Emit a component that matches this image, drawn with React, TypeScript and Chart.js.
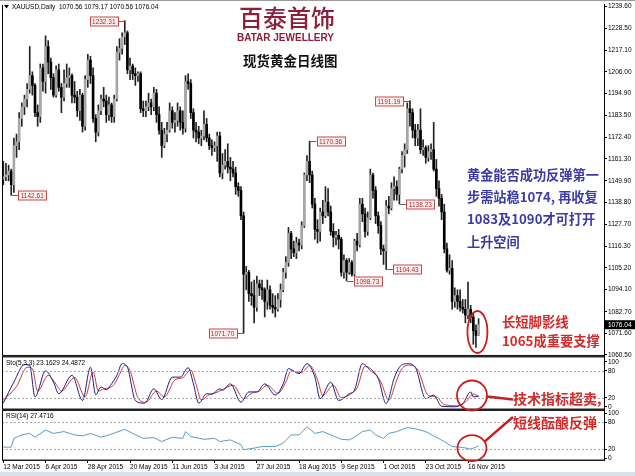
import React, { useEffect, useRef } from 'react';
import { Chart, registerables } from 'chart.js';

Chart.register(...registerables);

// ---------- DATA (XAUUSD daily) ----------
const symbolName = 'XAUUSD,Daily';
const firstDate = '2015-03-12';
const holidays = ['2015-04-03'];
const totalSlots = 228; // bars + empty right-hand shift

const opens = [
  1151, 1152, 1153, 1155, 1148, 1168, 1170, 1182, 1188, 1192, 1197, 1204, 1199, 1185, 1183, 1208, 1201, 1219, 1211, 1203,
  1194, 1207, 1198, 1193, 1200, 1203, 1204, 1194, 1193, 1186, 1194, 1178, 1202, 1212, 1204, 1182, 1175, 1186, 1192, 1191,
  1184, 1189, 1183, 1192, 1216, 1218, 1224, 1226, 1207, 1209, 1205, 1204, 1205, 1187, 1186, 1188, 1190, 1188, 1195, 1184,
  1176, 1168, 1174, 1176, 1186, 1180, 1181, 1186, 1180, 1177, 1201, 1200, 1185, 1176, 1175, 1172, 1173, 1179, 1172, 1168,
  1167, 1168, 1173, 1154, 1158, 1160, 1157, 1156, 1154, 1147, 1145, 1132, 1102, 1103, 1092, 1091, 1085, 1097, 1095, 1094,
  1088, 1094, 1086, 1085, 1084, 1089, 1094, 1103, 1108, 1123, 1115, 1113, 1118, 1117, 1127, 1153, 1160, 1153, 1138, 1125,
  1124, 1134, 1132, 1139, 1134, 1124, 1121, 1122, 1120, 1103, 1109, 1103, 1108, 1102, 1119, 1117, 1138, 1133, 1124, 1131,
  1153, 1145, 1132, 1127, 1115, 1114, 1137, 1136, 1146, 1147, 1143, 1156, 1163, 1166, 1187, 1185, 1176, 1172, 1176, 1166,
  1167, 1162, 1165, 1166, 1156, 1146, 1141, 1134, 1115, 1104, 1105, 1088, 1091, 1088, 1085, 1084, 1081, 1084, 1080, 1073,
  1070.56,
];
const highs = [
  1160, 1159, 1158, 1156, 1172, 1174, 1185, 1190, 1194, 1200, 1219, 1206, 1200, 1189, 1210, 1210, 1224.5, 1222, 1213, 1205,
  1209, 1210, 1200, 1207, 1210, 1208, 1205, 1201, 1196, 1197, 1195, 1204, 1215, 1214, 1208, 1184, 1189, 1194, 1198, 1194,
  1193, 1190, 1194, 1219, 1223, 1226, 1232.31, 1227, 1213, 1210, 1208, 1206, 1206, 1191, 1191, 1195, 1192, 1198, 1197, 1188,
  1180, 1177, 1180, 1190, 1188, 1185, 1190, 1188, 1186, 1204, 1205, 1202, 1187, 1180, 1178, 1176, 1186, 1182, 1174, 1171,
  1170, 1175, 1175, 1164, 1166, 1169, 1162, 1160, 1157, 1149, 1147, 1134, 1106, 1104, 1098, 1099, 1101, 1099, 1099, 1095,
  1099, 1096, 1092, 1091, 1092, 1097, 1105, 1111, 1126, 1124, 1119, 1121, 1120, 1129, 1154, 1163, 1170.36, 1155, 1141, 1130,
  1136, 1140, 1147, 1146, 1137, 1128, 1124, 1125, 1121, 1112, 1110, 1110, 1109, 1120, 1123, 1141, 1141, 1136, 1134, 1156,
  1154, 1147, 1134, 1129, 1117, 1140, 1142, 1149, 1152, 1150, 1157, 1165, 1169, 1190, 1191.19, 1187, 1179, 1179, 1187, 1171,
  1168, 1168, 1169, 1180, 1161, 1150, 1143, 1138, 1118, 1112, 1109, 1095, 1094, 1094, 1089, 1089, 1098, 1086, 1082, 1076,
  1079.17,
];
const lows = [
  1148, 1150, 1150, 1142.61, 1144, 1162, 1166, 1178, 1184, 1188, 1195, 1194, 1183, 1178, 1180, 1196, 1195, 1205, 1197, 1193,
  1193, 1196, 1185, 1191, 1198, 1198, 1190, 1190, 1183, 1181, 1175, 1176, 1198, 1200, 1180, 1170, 1173, 1184, 1188, 1180,
  1181, 1180, 1180, 1191, 1212, 1215, 1220, 1205, 1202, 1202, 1199, 1201, 1185, 1183, 1183, 1186, 1184, 1186, 1180, 1174,
  1162, 1167, 1170, 1175, 1177, 1175, 1178, 1176, 1174, 1175, 1197, 1182, 1172, 1170, 1169, 1168, 1171, 1170, 1166, 1163,
  1165, 1160, 1152, 1151, 1156, 1154, 1150, 1152, 1143, 1142, 1130, 1071.7, 1094, 1088, 1086, 1077, 1083, 1091, 1089, 1080,
  1084, 1084, 1082, 1080, 1083, 1085, 1093, 1100, 1106, 1110, 1111, 1110, 1114, 1115, 1126, 1150, 1149, 1136, 1120, 1118,
  1119, 1128, 1131, 1132, 1122, 1116, 1117, 1115, 1101, 1100, 1098.73, 1102, 1101, 1101, 1114, 1116, 1129, 1121, 1122, 1130,
  1141, 1128, 1123, 1112, 1107, 1104.43, 1133, 1135, 1140, 1140, 1138.23, 1154, 1157, 1164, 1178, 1172, 1168, 1168, 1164, 1163,
  1159, 1160, 1161, 1155, 1142, 1137, 1130, 1113, 1103, 1102, 1084, 1085, 1084, 1083, 1082, 1077, 1079, 1077, 1066, 1064.4,
  1070.56,
];
const closes = [
  1152, 1153, 1155, 1148, 1168, 1170, 1182, 1188, 1192, 1197, 1204, 1199, 1185, 1183, 1208, 1201, 1219, 1211, 1203, 1194,
  1207, 1198, 1193, 1200, 1203, 1204, 1194, 1193, 1186, 1194, 1178, 1202, 1212, 1204, 1182, 1175, 1186, 1192, 1191, 1184,
  1189, 1183, 1192, 1216, 1218, 1224, 1226, 1207, 1209, 1205, 1204, 1205, 1187, 1186, 1188, 1190, 1188, 1195, 1184, 1176,
  1168, 1174, 1176, 1186, 1180, 1181, 1186, 1180, 1177, 1201, 1200, 1185, 1176, 1175, 1172, 1173, 1179, 1172, 1168, 1167,
  1168, 1173, 1154, 1158, 1160, 1157, 1156, 1154, 1147, 1145, 1132, 1102, 1103, 1092, 1091, 1085, 1097, 1095, 1094, 1088,
  1094, 1086, 1085, 1084, 1089, 1094, 1103, 1108, 1123, 1115, 1113, 1118, 1117, 1127, 1153, 1160, 1153, 1138, 1125, 1124,
  1134, 1132, 1139, 1134, 1124, 1121, 1122, 1120, 1103, 1109, 1103, 1108, 1102, 1119, 1117, 1138, 1133, 1124, 1131, 1153,
  1145, 1132, 1127, 1115, 1114, 1137, 1136, 1146, 1147, 1143, 1156, 1163, 1166, 1187, 1185, 1176, 1172, 1176, 1166, 1167,
  1162, 1165, 1166, 1156, 1146, 1141, 1134, 1115, 1104, 1105, 1088, 1091, 1088, 1085, 1084, 1081, 1084, 1080, 1073, 1070.56,
  1076.04,
];

const priceTicks = [
  1239.6, 1228.5, 1217.1, 1206.0, 1194.9, 1183.5, 1172.4, 1161.3, 1149.9, 1138.8, 1127.7, 1116.3, 1105.2, 1094.1, 1082.7,
  1071.6, 1060.5,
];
const oscTicks = [0, 20, 80, 100];
const oscLevels = [20, 80];
const xTickLabels = [
  '12 Mar 2015', '6 Apr 2015', '28 Apr 2015', '20 May 2015', '11 Jun 2015', '3 Jul 2015', '27 Jul 2015', '18 Aug 2015',
  '9 Sep 2015', '1 Oct 2015', '23 Oct 2015', '16 Nov 2015',
];

// oscillators: [bar index, value] read at turning points
const stochK: [number, number][] = [
  [0, 8], [4, 55], [8, 94], [10, 92], [12, 22], [16, 80], [19, 55], [21, 29], [26, 70], [30, 14], [33, 88], [35, 27],
  [37, 44], [39, 38], [41, 51], [43, 70], [45, 96], [47, 88], [50, 14], [53, 8], [54, 10], [57, 40], [60, 16], [64, 66],
  [67, 66], [70, 87], [72, 51], [74, 8], [77, 29], [79, 28], [82, 40], [83, 37], [86, 51], [90, 10], [93, 33], [96, 33],
  [99, 51], [103, 26], [106, 51], [108, 85], [112, 74], [115, 96], [118, 66], [120, 18], [124, 55], [127, 14], [131, 29],
  [133, 37], [136, 96], [139, 81], [142, 63], [145, 7], [148, 63], [150, 88], [153, 96], [156, 88], [160, 18], [163, 26],
  [166, 1], [171, 0], [174, 7], [177, 33], [178, 22], [180, 23.1629],
];
const stochD: [number, number][] = [
  [0, 15], [5, 45], [9, 88], [11, 85], [13, 35], [17, 70], [20, 50], [22, 35], [27, 65], [31, 22], [34, 78], [36, 35],
  [38, 40], [40, 42], [42, 50], [44, 72], [46, 92], [48, 80], [51, 20], [54, 10], [58, 35], [61, 22], [65, 60], [68, 65],
  [71, 82], [73, 50], [75, 15], [78, 27], [80, 30], [83, 38], [87, 48], [91, 18], [94, 30], [97, 35], [100, 48], [104, 30],
  [107, 55], [109, 80], [113, 76], [116, 92], [119, 60], [121, 25], [125, 48], [128, 20], [132, 30], [134, 42], [137, 90],
  [140, 80], [143, 55], [146, 15], [149, 60], [151, 85], [154, 93], [157, 82], [161, 25], [164, 22], [167, 5], [172, 2],
  [175, 10], [178, 28], [180, 24.4872],
];
const rsi14: [number, number][] = [
  [0, 24.7], [3, 24.7], [4, 44], [7, 51.6], [10, 55], [12, 46.5], [16, 62.5], [19, 55], [23, 59], [27, 51.6], [30, 49.5],
  [33, 55], [37, 46.5], [40, 51.6], [46, 64], [49, 55], [53, 44], [57, 45.8], [60, 37], [64, 46.5], [68, 44], [69, 59],
  [71, 48], [76, 42], [80, 44], [82, 37], [86, 40.7], [90, 29.8], [91, 19], [95, 22.5], [98, 26], [103, 26], [106, 33.5],
  [109, 51.6], [112, 51.6], [115, 69.8], [118, 55], [121, 59], [124, 51.6], [128, 42], [131, 40.7], [133, 46.5], [136, 59],
  [139, 62.5], [141, 51.6], [144, 44], [146, 55], [149, 59], [153, 68], [157, 64], [160, 59], [163, 49.5], [167, 37],
  [170, 26], [174, 24], [177, 20.4], [178, 22.5], [180, 27.4716],
];

// swing price labels
const swingIdx = [46, 3, 91, 116, 130, 145, 154, 150];
const swingPrice = [1232.31, 1142.61, 1071.7, 1170.36, 1098.73, 1104.43, 1191.19, 1138.23];
const swingSide = ['left', 'right', 'left', 'right', 'right', 'right', 'left', 'right'];

const logoCn = '百泰首饰';
const logoEn = 'BATAR JEWELLERY';
const titleText = '现货黄金日线图';
const blueLines = ['黄金能否成功反弹第一', '步需站稳1074, 再收复', '1083及1090才可打开', '上升空间'];
const redLines = ['长短脚影线', '1065成重要支撑'];
const stochNote = '技术指标超卖,';
const rsiNote = '短线酝酿反弹';

// ---------- helpers ----------
const MONTHS = ['Jan', 'Feb', 'Mar', 'Apr', 'May', 'Jun', 'Jul', 'Aug', 'Sep', 'Oct', 'Nov', 'Dec'];
function buildDates(n: number): string[] {
  const out: string[] = [];
  const d = new Date(firstDate + 'T00:00:00Z');
  while (out.length < n) {
    const wd = d.getUTCDay();
    const iso = d.toISOString().slice(0, 10);
    if (wd !== 0 && wd !== 6 && !holidays.includes(iso)) {
      out.push(`${d.getUTCDate()} ${MONTHS[d.getUTCMonth()]} ${d.getUTCFullYear()}`);
    }
    d.setUTCDate(d.getUTCDate() + 1);
  }
  return out;
}

const N = opens.length;
const dates = buildDates(N);
const labels = [...dates, ...new Array(totalSlots - N).fill('')];
const tickIdx = new Set(xTickLabels.map((t) => dates.indexOf(t)).filter((i) => i >= 0));

function sparse(pts: [number, number][]) {
  const a: (number | null)[] = new Array(N).fill(null);
  pts.forEach(([i, v]) => (a[i] = v));
  return a;
}

const SMALL = '"Liberation Sans", Arial, sans-serif';
const CJK = '"Noto Sans CJK SC", "Noto Sans", sans-serif';

const overlay = {
  id: 'overlay',
  beforeDraw(chart: any) {
    const c = chart.ctx;
    c.save();
    c.fillStyle = '#ffffff';
    c.fillRect(0, 0, chart.width, chart.height);
    c.restore();
  },
  afterDraw(chart: any) {
    const c = chart.ctx as CanvasRenderingContext2D;
    const { x, y, yS, yR } = chart.scales;
    const area = chart.chartArea;
    c.save();

    // dotted levels
    c.strokeStyle = '#a8a8a8';
    c.lineWidth = 1;
    c.setLineDash([2, 2]);
    for (const sc of [yS, yR]) {
      for (const lv of oscLevels) {
        const py = Math.round(sc.getPixelForValue(lv)) + 0.5;
        c.beginPath();
        c.moveTo(area.left, py);
        c.lineTo(area.right, py);
        c.stroke();
      }
    }
    c.setLineDash([]);

    // frame & separators
    c.fillStyle = '#9c9c9c';
    c.fillRect(0, 0, chart.width, 1);
    c.strokeStyle = '#000';
    c.lineWidth = 1;
    c.beginPath();
    c.moveTo(area.left + 0.5, area.top);
    c.lineTo(area.left + 0.5, area.bottom);
    c.stroke();
    c.fillStyle = '#222';
    c.fillRect(area.left, yS.top - 1, area.right - area.left, 2.5);
    c.fillRect(area.left, yR.top - 1, area.right - area.left, 2.5);
    c.fillRect(area.left, area.bottom - 0.5, area.right - area.left, 1.5);
    c.fillStyle = '#d8e2ec';
    c.fillRect(0, 472, chart.width, chart.height - 472);

    // header texts
    c.fillStyle = '#000';
    c.beginPath();
    c.moveTo(4, 5);
    c.lineTo(9, 5);
    c.lineTo(6.5, 8.5);
    c.closePath();
    c.fill();
    c.font = `6.5px ${SMALL}`;
    c.textBaseline = 'middle';
    c.textAlign = 'left';
    const last = N - 1;
    c.fillText(
      `${symbolName}  ${opens[last].toFixed(2)} ${highs[last].toFixed(2)} ${lows[last].toFixed(2)} ${closes[last].toFixed(2)}`,
      12,
      7.5
    );
    c.fillText(
      `Sto(5,3,3) ${stochK[stochK.length - 1][1].toFixed(4)} ${stochD[stochD.length - 1][1].toFixed(4)}`,
      6,
      yS.top + 7.5
    );
    c.fillText(`RSI(14) ${rsi14[rsi14.length - 1][1].toFixed(4)}`, 6, yR.top + 6.5);

    // swing labels
    c.font = `6.5px ${SMALL}`;
    c.textAlign = 'center';
    swingIdx.forEach((idx, k) => {
      const px = x.getPixelForValue(idx);
      const py = Math.round(y.getPixelForValue(swingPrice[k])) + 0.5;
      const w = 28;
      const h = 9;
      const gap = 7;
      const bx = swingSide[k] === 'right' ? px + gap : px - gap - w;
      c.strokeStyle = '#666';
      c.lineWidth = 1;
      c.beginPath();
      c.moveTo(px, py);
      c.lineTo(swingSide[k] === 'right' ? bx : bx + w, py);
      c.stroke();
      c.fillStyle = '#fff0f0';
      c.fillRect(bx, py - h / 2, w, h);
      c.strokeStyle = '#c84848';
      c.strokeRect(Math.round(bx) + 0.5, py - h / 2, w, h);
      c.fillStyle = '#a82828';
      c.fillText(swingPrice[k].toFixed(2), bx + w / 2, py + 0.5);
    });

    // current price marker
    const cp = y.getPixelForValue(closes[last]);
    c.fillStyle = '#000';
    c.fillRect(area.right + 1, cp - 4.5, chart.width - area.right - 1, 9);
    c.fillStyle = '#fff';
    c.textAlign = 'left';
    c.fillText(closes[last].toFixed(2), area.right + 4, cp + 0.5);

    // logo & title
    c.fillStyle = '#8e1e3c';
    c.font = `500 24px ${CJK}`;
    c.textBaseline = 'middle';
    c.fillText(logoCn, 239, 17.5);
    c.font = `bold 10px ${SMALL}`;
    c.fillText(logoEn, 237, 38.5);
    c.fillStyle = '#111';
    c.font = `bold 13.5px ${CJK}`;
    c.fillText(titleText, 243, 61);

    // blue comment
    c.fillStyle = '#3b3ba8';
    c.font = `bold 13.2px ${CJK}`;
    blueLines.forEach((t, i) => c.fillText(t, 467, 175 + i * 22.2));

    // red comment near last bars
    c.fillStyle = '#d42a2a';
    c.font = `bold 13.3px ${CJK}`;
    redLines.forEach((t, i) => c.fillText(t, 502, 322 + i * 19));

    // circles
    c.strokeStyle = '#c81e1e';
    c.lineWidth = 1.8;
    const ex = x.getPixelForValue(179) + 1.5;
    c.beginPath();
    c.ellipse(ex, y.getPixelForValue(1072.3), 10, 21, 0, 0, Math.PI * 2);
    c.stroke();
    const sx = x.getPixelForValue(177.5);
    const sy = yS.getPixelForValue(25);
    c.beginPath();
    c.ellipse(sx, sy, 15, 15, 0, 0, Math.PI * 2);
    c.stroke();
    const rx = x.getPixelForValue(177.5);
    const ry = yR.getPixelForValue(22.5);
    c.beginPath();
    c.ellipse(rx, ry, 14.5, 13, 0, 0, Math.PI * 2);
    c.stroke();

    // pointer lines & notes
    c.lineWidth = 2.5;
    c.beginPath();
    c.moveTo(sx + 15, sy + 1);
    c.lineTo(513, sy + 4);
    c.stroke();
    c.beginPath();
    c.moveTo(rx + 12, ry - 6);
    c.lineTo(513, 417);
    c.stroke();
    c.fillStyle = '#d42a2a';
    c.font = `bold 14px ${CJK}`;
    c.fillText(stochNote, 513, sy + 3);
    c.fillText(rsiNote, 513, 423);

    c.restore();
  },
};

export default function App() {
  const ref = useRef<HTMLCanvasElement>(null);

  useEffect(() => {
    const wick = lows.map((l, i) => [l, highs[i]]);
    const body = opens.map((o, i) => [Math.min(o, closes[i]), Math.max(o, closes[i])]);
    const bodyColor = opens.map((o, i) => (closes[i] >= o ? '#a6a6a6' : '#000000'));
    const tickFont = { family: SMALL, size: 6.5 };

    const chart = new Chart(ref.current as HTMLCanvasElement, {
      type: 'bar',
      data: {
        labels,
        datasets: [
          {
            type: 'bar',
            data: wick as any,
            backgroundColor: '#222',
            barThickness: 1,
            grouped: false,
            yAxisID: 'y',
            order: 3,
          },
          {
            type: 'bar',
            data: body as any,
            backgroundColor: bodyColor,
            barThickness: 2,
            minBarLength: 1,
            grouped: false,
            yAxisID: 'y',
            order: 2,
          },
          {
            type: 'line',
            data: sparse(stochD),
            borderColor: '#c83c3c',
            borderWidth: 1,
            pointRadius: 0,
            spanGaps: true,
            cubicInterpolationMode: 'monotone',
            yAxisID: 'yS',
            order: 1,
          },
          {
            type: 'line',
            data: sparse(stochK),
            borderColor: '#1c1c86',
            borderWidth: 1,
            pointRadius: 0,
            spanGaps: true,
            cubicInterpolationMode: 'monotone',
            yAxisID: 'yS',
            order: 0,
          },
          {
            type: 'line',
            data: sparse(rsi14),
            borderColor: '#5b9cc6',
            borderWidth: 1,
            pointRadius: 0,
            spanGaps: true,
            yAxisID: 'yR',
            order: 0,
          },
        ] as any,
      },
      options: {
        responsive: false,
        devicePixelRatio: 1,
        animation: false,
        events: [],
        layout: { padding: { left: 2, top: 3, right: 0, bottom: 0 } },
        plugins: { legend: { display: false }, tooltip: { enabled: false } },
        scales: {
          x: {
            type: 'category',
            offset: true,
            grid: {
              display: true,
              drawOnChartArea: false,
              drawTicks: true,
              tickLength: 3,
              offset: false,
              tickColor: (ctx: any) => (tickIdx.has(ctx.index) ? '#000' : 'rgba(0,0,0,0)'),
            },
            border: { display: true, color: '#000' },
            ticks: {
              autoSkip: false,
              maxRotation: 0,
              minRotation: 0,
              align: 'start',
              padding: 0,
              color: '#000',
              font: tickFont,
              callback: (_v: any, i: number) => (tickIdx.has(i) ? dates[i] : ''),
            },
            afterFit: (s: any) => {
              s.height = 16;
            },
          },
          y: {
            position: 'right',
            stack: 'panes',
            stackWeight: 352.5,
            min: 1060.0,
            max: 1240.37,
            afterBuildTicks: (s: any) => {
              s.ticks = priceTicks.map((v) => ({ value: v }));
            },
            grid: { drawOnChartArea: false, tickLength: 3, tickColor: '#000' },
            border: { display: true, color: '#000' },
            ticks: { autoSkip: false, padding: 1, color: '#000', font: tickFont, callback: (v: any) => Number(v).toFixed(2) },
            afterFit: (s: any) => {
              s.width = 31;
            },
          },
          yS: {
            position: 'right',
            stack: 'panes',
            stackWeight: 53.8,
            min: -6.2,
            max: 113.3,
            afterBuildTicks: (s: any) => {
              s.ticks = oscTicks.map((v) => ({ value: v }));
            },
            grid: { drawOnChartArea: false, tickLength: 3, tickColor: '#000' },
            border: { display: true, color: '#000' },
            ticks: { autoSkip: false, padding: 1, color: '#000', font: tickFont, callback: (v: any) => String(v) },
            afterFit: (s: any) => {
              s.width = 31;
            },
          },
          yR: {
            position: 'right',
            stack: 'panes',
            stackWeight: 50.7,
            min: -3.7,
            max: 107.7,
            afterBuildTicks: (s: any) => {
              s.ticks = oscTicks.map((v) => ({ value: v }));
            },
            grid: { drawOnChartArea: false, tickLength: 3, tickColor: '#000' },
            border: { display: true, color: '#000' },
            ticks: { autoSkip: false, padding: 1, color: '#000', font: tickFont, callback: (v: any) => String(v) },
            afterFit: (s: any) => {
              s.width = 31;
            },
          },
        },
      } as any,
      plugins: [overlay],
    });
    return () => chart.destroy();
  }, []);

  return (
    <div style={{ position: 'fixed', left: 0, top: 0, width: 635, height: 476, background: '#fff' }}>
      <canvas ref={ref} width={635} height={476} style={{ display: 'block', width: 635, height: 476 }} />
    </div>
  );
}
